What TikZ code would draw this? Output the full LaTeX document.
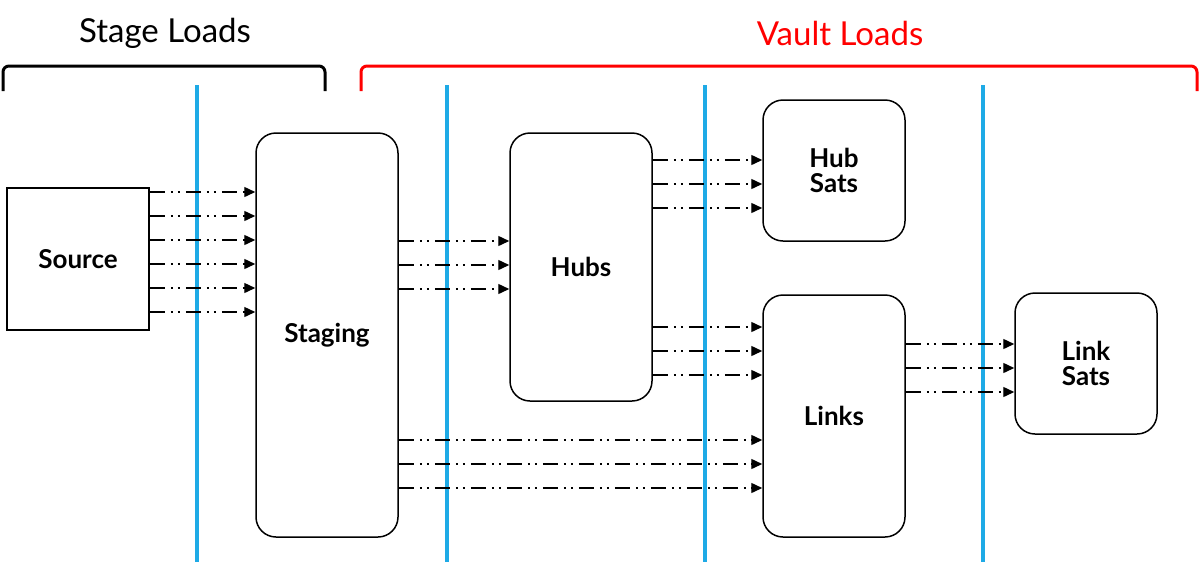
\documentclass[tikz,border=0pt]{standalone}
\usepackage{fontspec}
\setmainfont{Lato}
\usetikzlibrary{arrows.meta}
\begin{document}
\begin{tikzpicture}[x=1pt,y=-1pt,
  box/.style={draw,line width=1.5pt,rounded corners=20pt,minimum width=142pt,inner sep=0pt,font=\fontsize{26}{29}\selectfont\bfseries,align=center},
  flow/.style={line width=1.4pt,dash pattern=on 15pt off 6pt on 2pt off 5pt on 2pt off 6pt,-{Triangle[length=11pt,width=10pt]}},
  vline/.style={draw={rgb,255:red,30;green,170;blue,230},line width=3.2pt},
  brace/.style={line width=3pt,rounded corners=6pt}]
\useasboundingbox (0,0) rectangle (1200,566);
\foreach \x in {197,447,705,983} \draw[vline] (\x,85) -- (\x,562);
\node[box,rounded corners=0pt,minimum height=142pt] (source) at (78,259) {Source};
\node[box,minimum height=404pt] (staging) at (327,335) {Staging};
\node[box,minimum height=268pt] (hubs) at (581,267) {Hubs};
\node[box,minimum height=141pt] (hubsats) at (834,170.5) {Hub\\[-4pt]Sats};
\node[box,minimum height=242pt] (links) at (834,416) {Links};
\node[box,minimum height=141pt] (linksats) at (1086,363.5) {Link\\[-4pt]Sats};
\foreach \y in {192,216,240,264,288,312} \draw[flow] (source.east|-0,\y) -- (staging.west|-0,\y);
\foreach \y in {241,265,289} \draw[flow] (staging.east|-0,\y) -- (hubs.west|-0,\y);
\foreach \y in {160,184,208} \draw[flow] (hubs.east|-0,\y) -- (hubsats.west|-0,\y);
\foreach \y in {327,351,375} \draw[flow] (hubs.east|-0,\y) -- (links.west|-0,\y);
\foreach \y in {440,464,488} \draw[flow] (staging.east|-0,\y) -- (links.west|-0,\y);
\foreach \y in {344,368,392} \draw[flow] (links.east|-0,\y) -- (linksats.west|-0,\y);
\draw[brace] (3,91) -- (3,66) -- (325,66) -- (325,91);
\draw[brace,red] (361,91) -- (361,66) -- (1197,66) -- (1197,91);
\node[font=\fontsize{33}{36}\selectfont] (stl) at (165,33) {Stage Loads};
\node[font=\fontsize{33}{36}\selectfont,text=red] (vl) at (840,33) {Vault Loads};
\end{tikzpicture}
\end{document}
